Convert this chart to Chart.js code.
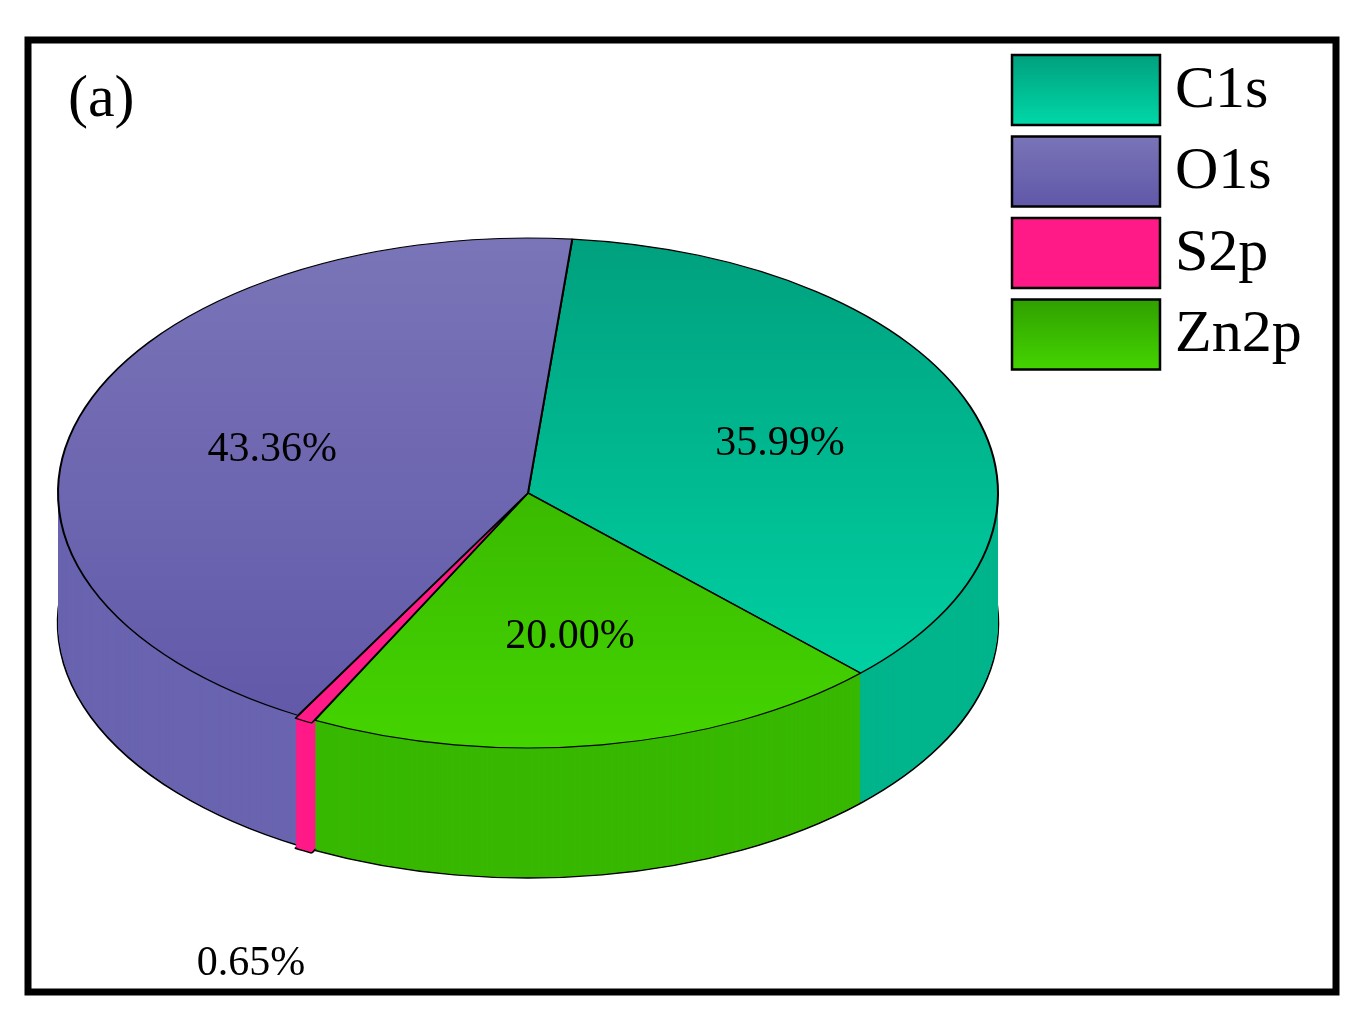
<!DOCTYPE html>
<html lang="en">
<head>
<meta charset="UTF-8" />
<title>XPS composition pie</title>
<script src="https://cdn.jsdelivr.net/npm/chart.js"></script>
<style>body{margin:0;background:#fff}</style>
</head>
<body>
<canvas id="pie" width="1362" height="1023"></canvas>
<script>
// data
const labels = ['C1s', 'O1s', 'S2p', 'Zn2p'];
const values = [35.99, 43.36, 0.65, 20.00];
const valueText = ['35.99%', '43.36%', '0.65%', '20.00%'];
// drawing order in the pie (clockwise from the top)
const order = [0, 3, 2, 1];

const topLight = ['#00d8a8', '#6058a8', '#ff1a88', '#44d400'];
const topDark  = ['#00a07e', '#7a74b8', '#ff1a88', '#30a000'];
const sideCol  = ['#00b48c', '#6a64b0', '#ff1a88', '#38b800'];

// ellipse geometry on the page
const cx = 528, cy = 493, rx = 470, ry = 255, depth = 130;

const pie3d = {
    id: 'pie3d',
    beforeDatasetsDraw(chart) {
        const ctx = chart.ctx;
        const meta = chart.getDatasetMeta(0);
        const el0 = meta.data[0];
        const R = el0.outerRadius, ox = el0.x, oy = el0.y;
        const setT = (dy) => {
            ctx.setTransform(1, 0, 0, 1, 0, 0);
            ctx.translate(cx, cy + dy);
            ctx.scale(rx / R, ry / R);
            ctx.translate(-ox, -oy);
        };
        ctx.save();
        // sides
        for (let dy = depth; dy >= 1; dy--) {
            setT(dy);
            meta.data.forEach((el, i) => {
                const o = el.options;
                const bg = o.backgroundColor, bw = o.borderWidth;
                o.backgroundColor = sideCol[order[i]];
                o.borderWidth = (dy === depth) ? 2.5 : 0;
                el.draw(ctx);
                o.backgroundColor = bg; o.borderWidth = bw;
            });
        }
        // top
        setT(0);
        meta.data.forEach((el, i) => {
            const k = order[i];
            const g = ctx.createLinearGradient(0, oy - R, 0, oy + R);
            g.addColorStop(0, topDark[k]);
            g.addColorStop(1, topLight[k]);
            const o = el.options;
            const bg = o.backgroundColor;
            o.backgroundColor = g;
            el.draw(ctx);
            o.backgroundColor = bg;
        });
        ctx.restore();

        // labels
        ctx.save();
        ctx.setTransform(1, 0, 0, 1, 0, 0);
        ctx.fillStyle = '#000';
        ctx.font = '42px "Liberation Serif"';
        ctx.textAlign = 'center';
        ctx.textBaseline = 'middle';
        meta.data.forEach((el, i) => {
            const k = order[i];
            const mid = (el.startAngle + el.endAngle) / 2;
            let f = 0.57, extra = 0;
            if (values[k] < 2) { f = 1.25; extra = depth + 60; }
            const x = cx + Math.cos(mid) * f * rx;
            const y = cy + Math.sin(mid) * f * ry + extra;
            ctx.fillText(valueText[k], x, y);
        });
        ctx.restore();
        return false;
    },
    afterDraw(chart) {
        const ctx = chart.ctx;
        ctx.save();
        ctx.setTransform(1, 0, 0, 1, 0, 0);
        // frame
        ctx.lineWidth = 7;
        ctx.strokeStyle = '#000';
        ctx.strokeRect(28, 40, 1308, 952);
        // panel tag
        ctx.fillStyle = '#000';
        ctx.font = '60px "Liberation Serif"';
        ctx.textBaseline = 'middle';
        ctx.fillText('(a)', 68, 100);
        // legend
        labels.forEach((lab, k) => {
            const y = 55 + k * 81.5;
            const g = ctx.createLinearGradient(0, y, 0, y + 70);
            g.addColorStop(0, topDark[k]);
            g.addColorStop(1, topLight[k]);
            ctx.fillStyle = g;
            ctx.fillRect(1012, y, 148, 70);
            ctx.lineWidth = 2.5;
            ctx.strokeRect(1012, y, 148, 70);
            ctx.fillStyle = '#000';
            ctx.fillText(lab, 1175, y + 36);
        });
        ctx.restore();
    }
};

new Chart(document.getElementById('pie'), {
    type: 'pie',
    data: {
        labels: order.map(k => labels[k]),
        datasets: [{
            data: order.map(k => values[k]),
            backgroundColor: order.map(k => topLight[k]),
            borderColor: '#000',
            borderWidth: 2,
            offset: order.map(k => values[k] < 2 ? 12 : 0)
        }]
    },
    options: {
        responsive: false,
        devicePixelRatio: 1,
        animation: false,
        rotation: 5.4,
        layout: { padding: 40 },
        plugins: { legend: { display: false }, tooltip: { enabled: false } }
    },
    plugins: [pie3d]
});
</script>
</body>
</html>
